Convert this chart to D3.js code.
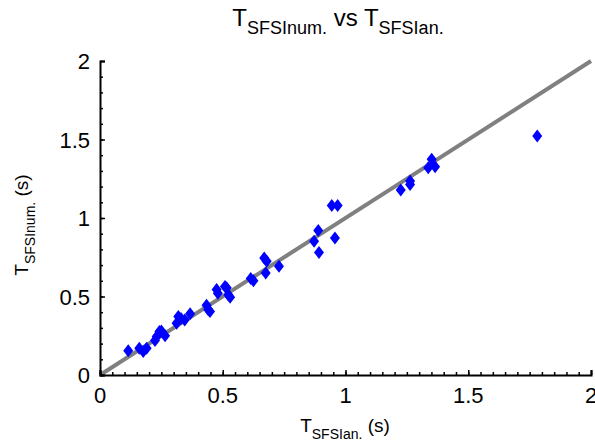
<!DOCTYPE html>
<html><head><meta charset="utf-8">
<script src="https://cdn.jsdelivr.net/npm/d3@7"></script>
<style>body{margin:0;background:#fff}svg{display:block;font-family:"Liberation Sans",Arial,sans-serif}</style>
</head><body><svg id="c" width="595" height="446"></svg>
<script>
const xVals = [0.115,0.16,0.176,0.19,0.224,0.231,0.242,0.25,0.265,0.312,0.319,0.33,0.345,0.367,0.434,0.441,0.448,0.475,0.48,0.509,0.516,0.523,0.53,0.614,0.625,0.669,0.679,0.675,0.729,0.872,0.889,0.892,0.944,0.968,0.957,1.225,1.263,1.263,1.337,1.351,1.365,1.781];
const yVals = [0.155,0.17,0.15,0.17,0.22,0.245,0.277,0.28,0.25,0.33,0.373,0.36,0.35,0.39,0.445,0.415,0.405,0.545,0.52,0.564,0.555,0.51,0.496,0.615,0.60,0.745,0.724,0.65,0.692,0.852,0.92,0.781,1.08,1.08,0.873,1.178,1.214,1.235,1.32,1.374,1.327,1.523];
const refLine = [[0,0],[2,2]];
const majorTicks = [0,0.5,1,1.5,2];
const tickLabels = ["0","0.5","1","1.5","2"];

const svg = d3.select("#c");
const x = d3.scaleLinear().domain([0,2]).range([100,591]);
const y = d3.scaleLinear().domain([0,2]).range([375,61]);

// reference line
svg.append("path").attr("d", d3.line().x(d=>x(d[0])).y(d=>y(d[1]))(refLine))
  .attr("stroke","#808080").attr("stroke-width",4).attr("fill","none");

// points
const pts = xVals.map((v,i)=>[v,yVals[i]]);
svg.append("g").selectAll("path").data(pts).join("path")
  .attr("d", d=>{const cx=x(d[0]), cy=y(d[1]); return `M${cx},${cy-6.5}L${cx+5},${cy}L${cx},${cy+6.5}L${cx-5},${cy}Z`;})
  .attr("fill","#0000ff");

// axes
const xMinor = d3.range(0,2.0001,0.05);
const yMinor = d3.range(0,2.0001,0.1);
const gx = svg.append("g").attr("transform","translate(0,375)");
gx.append("g").call(d3.axisTop(x).tickValues(xMinor).tickSize(3).tickFormat(()=>"")).call(g=>g.select(".domain").remove());
gx.append("g").call(d3.axisTop(x).tickValues(majorTicks).tickSize(5).tickFormat(()=>""));
const gy = svg.append("g").attr("transform","translate(100,0)");
gy.append("g").call(d3.axisRight(y).tickValues(yMinor).tickSize(3).tickFormat(()=>"")).call(g=>g.select(".domain").remove());
gy.append("g").call(d3.axisRight(y).tickValues(majorTicks).tickSize(5).tickFormat(()=>""));
svg.selectAll(".domain").attr("stroke","#000").attr("stroke-width",2);
svg.selectAll(".tick line").attr("stroke","#000").attr("stroke-width",1.5);

// tick labels
svg.append("g").selectAll("text").data(majorTicks).join("text")
  .attr("x",d=>x(d)).attr("y",403).attr("text-anchor","middle")
  .attr("font-size",22).text((d,i)=>tickLabels[i]);
svg.append("g").selectAll("text").data(majorTicks).join("text")
  .attr("x",90).attr("y",d=>y(d)+8).attr("text-anchor","end")
  .attr("font-size",22).text((d,i)=>tickLabels[i]);

// title
const t = svg.append("text").attr("x",338).attr("y",26).attr("text-anchor","middle").attr("font-size",24);
t.append("tspan").text("T");
t.append("tspan").attr("font-size",18).attr("dy",8).text("SFSInum.");
t.append("tspan").attr("dy",-8).text(" vs T");
t.append("tspan").attr("font-size",18).attr("dy",8).text("SFSIan.");

// x label
const xl = svg.append("text").attr("x",345).attr("y",432).attr("text-anchor","middle").attr("font-size",19);
xl.append("tspan").text("T");
xl.append("tspan").attr("font-size",14).attr("dy",7).text("SFSIan.");
xl.append("tspan").attr("dy",-7).text(" (s)");

// y label
const yl = svg.append("text").attr("transform","translate(28,225) rotate(-90)").attr("text-anchor","middle").attr("font-size",19);
yl.append("tspan").text("T");
yl.append("tspan").attr("font-size",14).attr("dy",7).text("SFSInum.");
yl.append("tspan").attr("dy",-7).text(" (s)");
</script></body></html>
